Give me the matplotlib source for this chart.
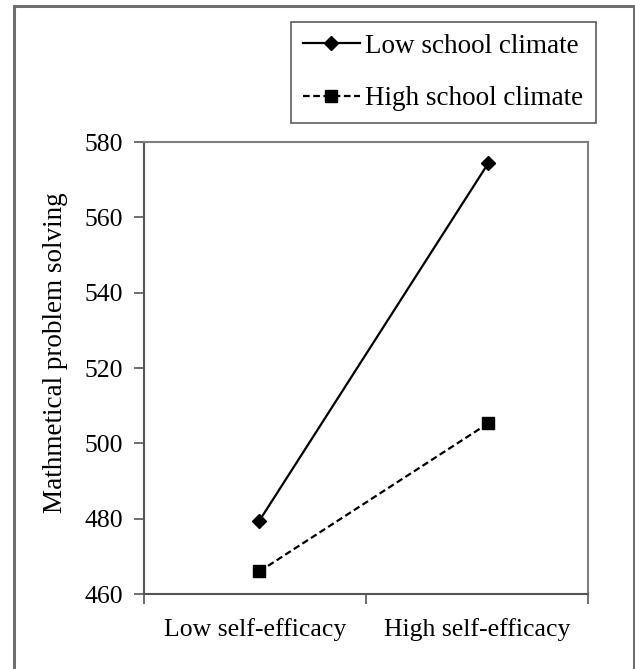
import matplotlib.pyplot as plt
from matplotlib.patches import Rectangle

categories = ["Low self-efficacy", "High self-efficacy"]
low_climate = [479.5, 574.3]
high_climate = [466.0, 505.3]
yticks = [460, 480, 500, 520, 540, 560, 580]

plt.rcParams['font.family'] = ['Liberation Serif', 'DejaVu Serif']

fig = plt.figure(figsize=(6.35, 6.69), dpi=100)
ax = fig.add_axes([0.2268, 0.1121, 0.6992, 0.6756])

# points sit slightly right of the category centres, as in the original
xpos = [0.52, 1.55]
ax.plot(xpos, low_climate, color='black', lw=1.6, marker='D', ms=7,
        label='Low school climate')
ax.plot(xpos, high_climate, color='black', lw=1.6, ls=(0, (3, 1.6)),
        marker='s', ms=8, label='High school climate')

ax.set_xlim(0, 2)
ax.set_ylim(460, 580)
ax.set_yticks(yticks)
ax.set_xticks([0, 1, 2])
ax.set_xticklabels([])
ax.set_xticks([0.5, 1.5], minor=True)
ax.set_xticklabels(categories, minor=True)
ax.tick_params(axis='x', which='minor', length=0, pad=17, labelsize=18.5)
ax.tick_params(axis='x', which='major', length=7, width=1.2, color='#555555')
ax.tick_params(axis='y', length=7, width=1.2, color='#555555', pad=8,
               labelsize=18.5)
ax.set_ylabel('Mathmetical problem solving', fontsize=19.5)
ax.yaxis.set_label_coords(-0.171, 0.533)
for s in ax.spines.values():
    s.set_color('#7f7f7f')
    s.set_linewidth(1.5)
ax.spines['left'].set_color('#555555')
ax.spines['bottom'].set_color('#555555')

leg = fig.legend(loc='center', bbox_to_anchor=(0.698, 0.8916), fontsize=19.5,
                 frameon=True, fancybox=False, handlelength=2.1,
                 handletextpad=0.2, borderpad=0.45, labelspacing=1.0,
                 borderaxespad=0)
leg.get_frame().set_edgecolor('#333333')
leg.get_frame().set_linewidth(1.2)

# outer chart border
fig.patches.append(Rectangle((14 / 635, -0.01), 620 / 635, 1 - 6 / 669 + 0.01,
                             transform=fig.transFigure, fill=False,
                             edgecolor='#6f6f6f', lw=2.2))

fig.savefig('out.png', dpi=100)
